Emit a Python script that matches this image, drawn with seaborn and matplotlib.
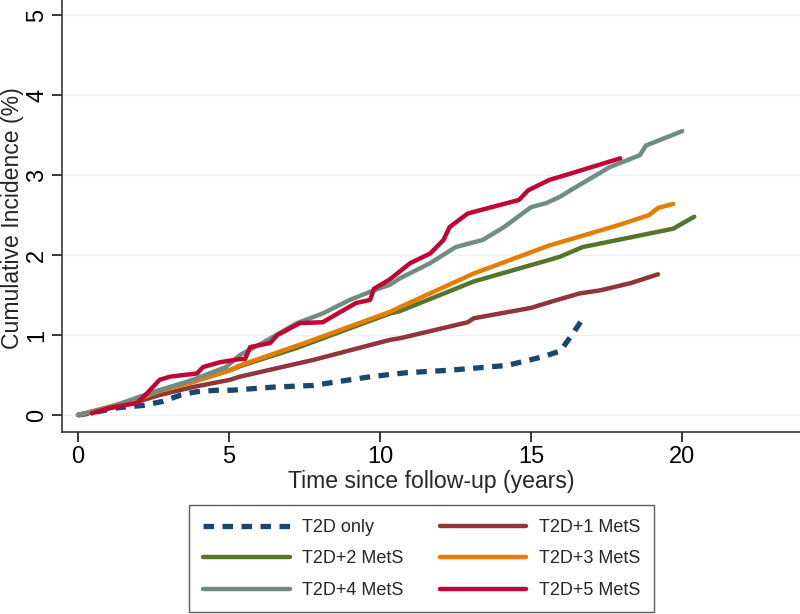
# Incidenza cumulativa per numero di componenti MetS

import matplotlib
matplotlib.use("Agg")
import pandas as pd
import matplotlib.pyplot as plt
import seaborn as sns

sns.set_style("ticks")
plt.rcParams["font.family"] = ["Liberation Sans", "DejaVu Sans"]


# DATI

t_0 = [0, 0.5, 1.3, 2.15, 2.8, 3.4, 3.9, 4.6, 5.1, 6.5, 7.8, 8.3, 9.0, 9.7,
       10.4, 10.9, 12.3, 14.2, 15.4, 15.96, 16.35, 16.7]
ci_0 = [0, 0.03, 0.09, 0.12, 0.17, 0.25, 0.29, 0.31, 0.31, 0.35, 0.37, 0.40,
        0.44, 0.48, 0.51, 0.53, 0.56, 0.62, 0.73, 0.80, 1.00, 1.20]

t_1 = [0, 1, 2, 2.7, 3.8, 5.03, 5.36, 7.8, 10.33, 10.66, 12.9, 13.1, 15,
       15.6, 16.6, 17.3, 18.3, 19.2]
ci_1 = [0, 0.08, 0.17, 0.25, 0.35, 0.44, 0.48, 0.69, 0.94, 0.96, 1.16, 1.21,
        1.34, 1.41, 1.52, 1.56, 1.65, 1.76]

t_2 = [0, 1, 2, 2.7, 3.8, 5.03, 5.36, 7.25, 10.33, 10.66, 13.1, 15.6, 15.96,
       16.7, 18.4, 19.7, 20.4]
ci_2 = [0, 0.09, 0.20, 0.31, 0.42, 0.56, 0.61, 0.84, 1.27, 1.30, 1.67, 1.94,
        1.98, 2.10, 2.23, 2.33, 2.48]

t_3 = [0, 1, 2, 2.7, 3.8, 5.03, 5.36, 7.5, 10.33, 10.66, 13.1, 15.6, 15.96,
       17.85, 18.9, 19.2, 19.7]
ci_3 = [0, 0.10, 0.20, 0.30, 0.41, 0.56, 0.62, 0.90, 1.29, 1.35, 1.77, 2.12,
        2.16, 2.37, 2.50, 2.59, 2.64]

t_4 = [0, 1, 2.05, 2.7, 3.8, 4.9, 5.36, 6.1, 7.25, 8.1, 9.0, 9.8, 10.33,
       10.66, 11.66, 12.5, 13.4, 14.1, 15.0, 15.5, 15.96, 16.3, 17.6, 18.6,
       18.8, 20.0]
ci_4 = [0, 0.09, 0.23, 0.31, 0.44, 0.60, 0.75, 0.90, 1.15, 1.27, 1.44, 1.56,
        1.63, 1.71, 1.90, 2.10, 2.19, 2.35, 2.60, 2.65, 2.73, 2.81, 3.10, 3.25,
        3.37, 3.55]

t_5 = [0.45, 1.06, 1.95, 2.28, 2.7, 3.05, 3.94, 4.14, 4.7, 5.36, 5.53, 5.7,
       6.36, 6.6, 7.35, 8.1, 8.6, 9.2, 9.67, 9.8, 10.3, 11.0, 11.66, 12.1,
       12.3, 12.9, 14.6, 14.9, 15.6, 15.96, 17.95]
ci_5 = [0.02, 0.09, 0.15, 0.27, 0.44, 0.48, 0.52, 0.60, 0.66, 0.70, 0.70,
        0.85, 0.90, 1.00, 1.15, 1.16, 1.27, 1.40, 1.44, 1.58, 1.69, 1.90, 2.02,
        2.19, 2.35, 2.52, 2.69, 2.81, 2.94, 2.98, 3.21]

gruppi = ["T2D only", "T2D+1 MetS", "T2D+2 MetS",
          "T2D+3 MetS", "T2D+4 MetS", "T2D+5 MetS"]
tempi = [t_0, t_1, t_2, t_3, t_4, t_5]
valori = [ci_0, ci_1, ci_2, ci_3, ci_4, ci_5]

# palette stile Stata s2color
colori = ["#1a476f", "#90353b", "#55752f", "#e37e00", "#6e8e84", "#c10534"]

df = pd.concat([
    pd.DataFrame({"gruppo": g, "tempo": t, "ci": v})
    for g, t, v in zip(gruppi, tempi, valori)
])


# GRAFICO

fig = plt.figure(figsize=(8, 6.14), dpi=100)
ax = fig.add_axes([0.0775, 0.2964, 0.9225, 0.7036])

for y in range(6):
    ax.axhline(y, color="#e6f2f6", linewidth=1, zorder=0)

for i, g in enumerate(gruppi):
    sub = df[df["gruppo"] == g]
    if i == 0:
        sns.lineplot(data=sub, x="tempo", y="ci", ax=ax, color=colori[i],
                     linewidth=3.8, estimator=None, sort=False,
                     linestyle=(0, (2.0, 1.6)), label=g, legend=False)
    else:
        sns.lineplot(data=sub, x="tempo", y="ci", ax=ax, color=colori[i],
                     linewidth=3.2, estimator=None, sort=False,
                     label=g, legend=False)

ax.set_xlim(-0.53, 23.9)
ax.set_ylim(-0.2125, 5.19)
ax.set_xticks([0, 5, 10, 15, 20])
ax.set_yticks([0, 1, 2, 3, 4, 5])

ax.spines["top"].set_visible(False)
ax.spines["right"].set_visible(False)
ax.spines["left"].set_linewidth(1.1)
ax.spines["bottom"].set_linewidth(1.1)

ax.tick_params(axis="both", labelsize=17, length=7, width=1.1, pad=3,
               colors="black")
for lab in ax.get_yticklabels():
    lab.set_rotation(90)
    lab.set_va("center")

ax.set_xlabel("Time since follow-up (years)", fontsize=16.6)
ax.set_ylabel("Cumulative Incidence (%)", fontsize=16.6)
ax.xaxis.set_label_coords(0.5, -0.087)
ax.yaxis.set_label_coords(-0.051, 0.495)

# legenda su due colonne, ordine per righe
linee = {l.get_label(): l for l in ax.get_lines() if l.get_label() in gruppi}
ordine = ["T2D only", "T2D+2 MetS", "T2D+4 MetS",
          "T2D+1 MetS", "T2D+3 MetS", "T2D+5 MetS"]
leg = fig.legend([linee[k] for k in ordine], ordine, ncol=2, loc="center",
                 bbox_to_anchor=(0.527, 0.0896), frameon=True, fancybox=False,
                 edgecolor="#333333", fontsize=13, handlelength=4.8,
                 columnspacing=2.0, labelspacing=0.8, borderpad=0.75,
                 handletextpad=0.7, borderaxespad=0)
leg.get_frame().set_linewidth(1.0)

plt.savefig("out.png", dpi=100)
plt.close()
